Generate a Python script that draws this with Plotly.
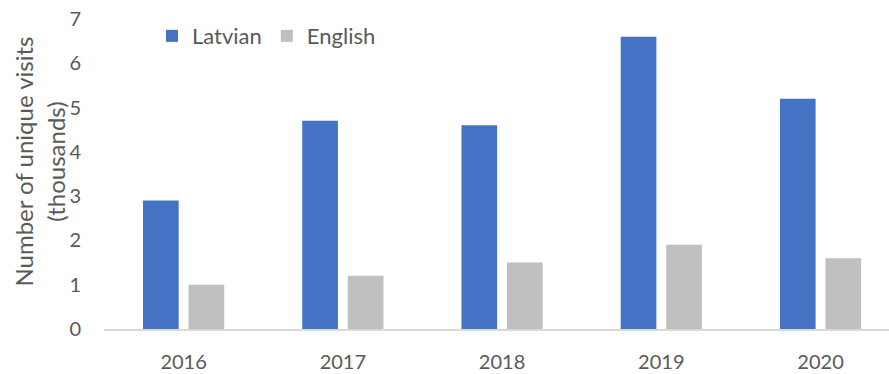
import plotly.graph_objects as go

years = ["2016", "2017", "2018", "2019", "2020"]
latvian = [2.9, 4.7, 4.6, 6.6, 5.2]
english = [1.0, 1.2, 1.5, 1.9, 1.6]
y_ticks = [0, 1, 2, 3, 4, 5, 6, 7]

FONT = "Lato"
TXT = "#595959"

fig = go.Figure()
fig.add_trace(go.Bar(name="Latvian", x=years, y=latvian, marker_color="#4472C4",
                     width=0.224, offset=-0.255, marker_line_width=0))
fig.add_trace(go.Bar(name="English", x=years, y=english, marker_color="#BFBFBF",
                     width=0.224, offset=0.031, marker_line_width=0))

W, H = 889, 374
ml, mr, mt, mb = 104, 0, 18.5, 44.5
pw = W - ml - mr

fig.update_layout(
    width=W, height=H,
    margin=dict(l=ml, r=mr, t=mt, b=mb, pad=0),
    paper_bgcolor="white", plot_bgcolor="white",
    font=dict(family=FONT, size=20, color=TXT),
    showlegend=True,
    legend=dict(orientation="h", x=48 / pw, y=0.945, xanchor="left", yanchor="middle",
                font=dict(size=22, color=TXT), bgcolor="rgba(0,0,0,0)",
                itemwidth=30, traceorder="normal"),
    xaxis=dict(type="category", range=[-0.5, 4.43], showgrid=False,
               showline=True, linecolor="#D9D9D9", linewidth=1.5,
               ticks="", tickfont=dict(size=20, color=TXT), ticklabelstandoff=14),
    yaxis=dict(range=[0, 7], tickvals=y_ticks, showgrid=False, zeroline=False,
               showline=False, ticks="", tickfont=dict(size=20, color=TXT),
               ticklabelstandoff=22),
)

fig.add_annotation(
    text="Number of unique visits<br>(thousands)",
    xref="paper", yref="paper", x=-97 / pw, y=0.54,
    xanchor="left", yanchor="middle", textangle=-90, showarrow=False,
    font=dict(family=FONT, size=24, color=TXT),
)

fig.write_html("out.html")
